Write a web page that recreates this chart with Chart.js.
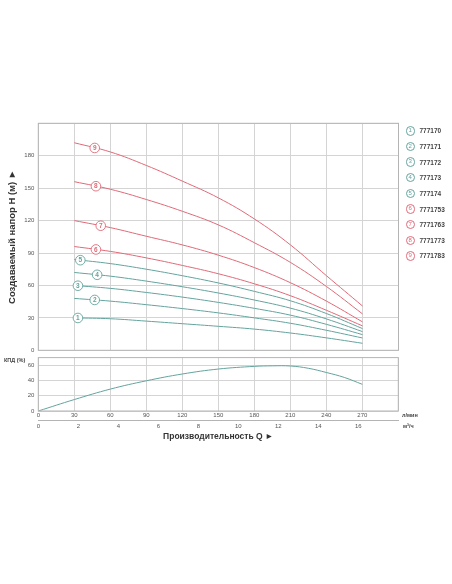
<!DOCTYPE html>
<html lang="ru">
<head>
<meta charset="UTF-8">
<title>Напорные характеристики</title>
<script src="https://cdn.jsdelivr.net/npm/chart.js"></script>
<style>
    body { margin: 0; padding: 0; background: #ffffff; font-family: 'Liberation Sans', Arial, sans-serif; }
    .page { width: 452px; height: 584px; position: relative; background: #ffffff; overflow: hidden; }
    .box { position: absolute; left: 0; width: 452px; }
    .note { position: absolute; font-size: 5.5px; font-weight: bold; color: #444; white-space: nowrap; }
    .legend { position: absolute; left: 405.5px; top: 123px; }
    .legend-row { height: 15.65px; display: flex; align-items: center; }
    .legend-dot { width: 7.5px; height: 7.5px; border-radius: 50%; border: 0.8px solid; font-size: 6px; line-height: 7.5px; text-align: center; margin-right: 4.5px; background: #fff; }
    .legend-text { font-size: 6.5px; font-weight: bold; color: #444; }
</style>
</head>
<body>
<div class="page">
    <div class="box" style="top:115px;height:245px;"><canvas id="headChart"></canvas></div>
    <div class="box" style="top:350px;height:100px;"><canvas id="effChart"></canvas></div>
    <div class="note" style="left:4px;top:357px;">КПД (%)</div>
    <div class="note" style="left:402px;top:412px;">л/мин</div>
    <div class="note" style="left:403px;top:423px;">м³/ч</div>
    <div class="legend" id="legend"></div>
</div>

<script>
// Flow points for the head curves (l/min)
const flowLpm = [30, 60, 90, 120, 150, 180, 210, 240, 270];

// Head H (m) for each pump model
const head1 = [30, 29.2, 27, 24.6, 22.2, 19.6, 16, 11.5, 6.5];
const head2 = [48, 45.5, 42.2, 38.6, 34.6, 30, 25, 18.5, 11.4];
const head3 = [60, 57.3, 53.5, 49.2, 44.3, 38.8, 32.5, 24, 14.5];
const head4 = [72, 68.6, 64, 58.8, 53, 46.5, 39, 29, 17.3];
const head5 = [84, 80.2, 75, 69, 62.3, 54.5, 45.8, 34, 20.1];
const head6 = [96, 91.5, 85.5, 78.5, 70.8, 61.5, 50.5, 37, 22.6];
const head7 = [120, 113.5, 105.5, 97.5, 88, 76.5, 62.5, 45.5, 26.3];
const head8 = [156, 149, 139.5, 128.6, 116, 99.5, 81.3, 59, 33.7];
const head9 = [192, 183.5, 171, 156.5, 141, 121.5, 97.5, 69, 41];

const models = ['777170', '777171', '777172', '777173', '777174', '7771753', '7771763', '7771773', '7771783'];
// flow (l/min) where each numbered marker sits on its curve
const markerFlow = [33, 47, 33, 49, 35, 48, 52, 48, 47];

// Efficiency curve
const effFlow = [0, 30, 60, 90, 120, 150, 180, 195, 210, 225, 240, 255, 270];
const effValues = [0, 15, 28.7, 39.6, 48.5, 55, 58.5, 59.2, 59, 56, 50.5, 44, 35];

const TEAL = '#64a49e';
const RED = '#e06a78';
const GRID = '#d4d4d4';
const BORDER = '#b4b4b4';
const TICK = '#555555';

Chart.defaults.font.family = "'Liberation Sans', Arial, sans-serif";
Chart.defaults.color = TICK;

const heads = [head1, head2, head3, head4, head5, head6, head7, head8, head9];
const colorOf = i => (i < 5 ? TEAL : RED);

// legend
const legendEl = document.getElementById('legend');
models.forEach((m, i) => {
    const row = document.createElement('div');
    row.className = 'legend-row';
    row.innerHTML = '<div class="legend-dot" style="border-color:' + colorOf(i) + ';color:' + colorOf(i) + '">' + (i + 1) + '</div>' +
        '<div class="legend-text">' + m + '</div>';
    legendEl.appendChild(row);
});

const frame = {
    id: 'frame',
    afterDatasetsDraw(chart) {
        const a = chart.chartArea, ctx = chart.ctx;
        ctx.save();
        ctx.strokeStyle = BORDER;
        ctx.lineWidth = 1;
        ctx.strokeRect(a.left, a.top, a.right - a.left, a.bottom - a.top);
        ctx.restore();
    }
};

function headAt(data, q) {
    for (let k = 0; k < flowLpm.length - 1; k++) {
        if (q >= flowLpm[k] && q <= flowLpm[k + 1]) {
            const t = (q - flowLpm[k]) / (flowLpm[k + 1] - flowLpm[k]);
            return data[k] + t * (data[k + 1] - data[k]);
        }
    }
    return data[0];
}

const markers = {
    id: 'markers',
    afterDatasetsDraw(chart) {
        const ctx = chart.ctx, xs = chart.scales.x, ys = chart.scales.y;
        ctx.save();
        heads.forEach((data, i) => {
            const px = xs.getPixelForValue(markerFlow[i]);
            const py = ys.getPixelForValue(headAt(data, markerFlow[i]));
            ctx.beginPath();
            ctx.arc(px, py, 4.8, 0, Math.PI * 2);
            ctx.fillStyle = '#ffffff';
            ctx.fill();
            ctx.lineWidth = 0.9;
            ctx.strokeStyle = colorOf(i);
            ctx.stroke();
            ctx.fillStyle = colorOf(i);
            ctx.font = "bold 6.5px 'Liberation Sans', Arial, sans-serif";
            ctx.textAlign = 'center';
            ctx.textBaseline = 'middle';
            ctx.fillText(String(i + 1), px, py + 0.3);
        });
        ctx.restore();
    }
};

new Chart(document.getElementById('headChart'), {
    type: 'line',
    data: {
        datasets: heads.map((d, i) => ({
            label: models[i],
            data: flowLpm.map((q, k) => ({ x: q, y: d[k] })),
            borderColor: colorOf(i),
            borderWidth: 1,
            pointRadius: 0,
            tension: 0.4,
            fill: false
        }))
    },
    options: {
        responsive: true,
        maintainAspectRatio: false,
        animation: false,
        layout: { padding: { top: 8.3, right: 53.5, left: 0, bottom: 0 } },
        plugins: { legend: { display: false }, tooltip: { enabled: false } },
        scales: {
            x: {
                type: 'linear', min: 0, max: 300,
                ticks: { display: false, stepSize: 30 },
                grid: { color: GRID, drawTicks: false },
                border: { display: false },
                afterFit: s => { s.height = 9.7; }
            },
            y: {
                min: 0, max: 210,
                ticks: {
                    stepSize: 30, padding: 4,
                    font: { size: 6 },
                    callback: v => (v >= 210 ? '' : v)
                },
                grid: { color: GRID, drawTicks: false },
                border: { display: false },
                title: {
                    display: true,
                    text: 'Создаваемый напор H (м) ►',
                    color: '#333',
                    font: { size: 9.5, weight: 'bold' },
                    padding: { top: 7, bottom: 0 }
                },
                afterFit: s => { s.width = 38.3; }
            }
        }
    },
    plugins: [frame, markers]
});

new Chart(document.getElementById('effChart'), {
    type: 'line',
    data: {
        datasets: [{
            label: 'КПД',
            data: effFlow.map((q, k) => ({ x: q, y: effValues[k] })),
            borderColor: TEAL,
            borderWidth: 1,
            pointRadius: 0,
            tension: 0.4,
            fill: false
        }]
    },
    options: {
        responsive: true,
        maintainAspectRatio: false,
        animation: false,
        layout: { padding: { top: 7.3, right: 53.7, left: 0, bottom: 3.9 } },
        plugins: { legend: { display: false }, tooltip: { enabled: false } },
        scales: {
            x: {
                type: 'linear', position: 'bottom', min: 0, max: 300,
                ticks: {
                    stepSize: 30, padding: 1, maxRotation: 0, autoSkip: false,
                    font: { size: 6 },
                    callback: v => (v >= 300 ? '' : v)
                },
                grid: { color: GRID, drawTicks: false },
                border: { display: false },
                afterFit: s => { s.height = 9.3; }
            },
            x2: {
                type: 'linear', position: 'bottom', min: 0, max: 18,
                ticks: {
                    stepSize: 2, padding: 2, maxRotation: 0, autoSkip: false,
                    font: { size: 6 },
                    callback: v => (v >= 18 ? '' : v)
                },
                grid: { display: false, drawTicks: false },
                border: { display: true, color: BORDER, width: 1 },
                title: {
                    display: true,
                    text: 'Производительность Q ►',
                    color: '#333',
                    font: { size: 8.5, weight: 'bold' },
                    padding: { top: 0, bottom: 4 }
                },
                afterFit: s => { s.height = 25.8; }
            },
            y: {
                min: 0, max: 70,
                ticks: {
                    stepSize: 10, padding: 4,
                    font: { size: 6 },
                    callback: v => (v % 20 === 0 && v < 70 ? v : '')
                },
                grid: { color: GRID, drawTicks: false },
                border: { display: false },
                afterFit: s => { s.width = 38.3; }
            }
        }
    },
    plugins: [frame]
});
</script>
</body>
</html>
